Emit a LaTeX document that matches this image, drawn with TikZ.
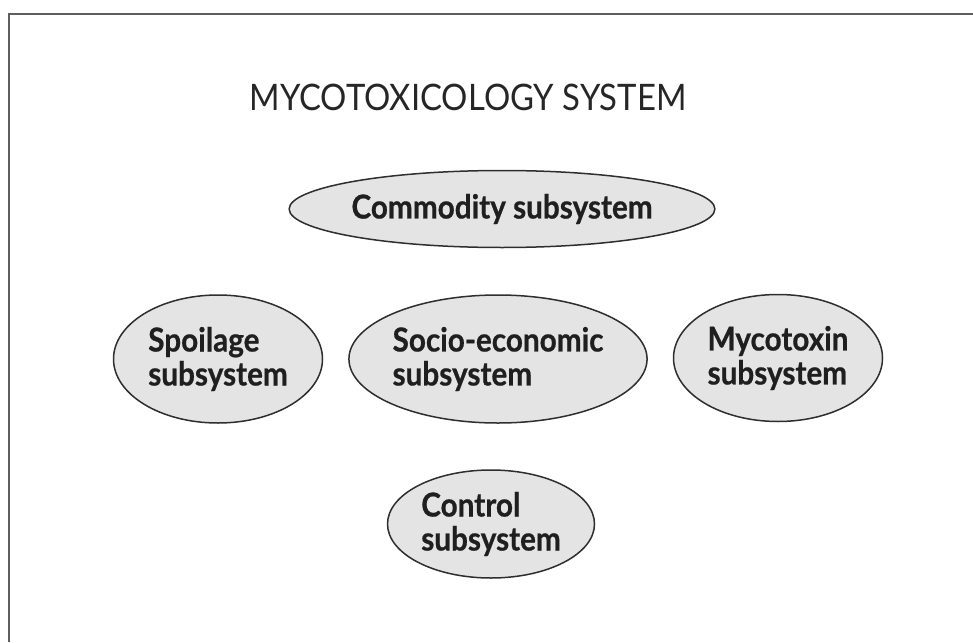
\documentclass[tikz,border=0pt]{standalone}
\usepackage{fontspec}
\setmainfont{Lato}
\newfontfamily\subfont{Lato}[FakeStretch=0.9, BoldFeatures={FakeBold=0.6}]
\usetikzlibrary{shapes.geometric}
\definecolor{subfill}{HTML}{E4E4E4}
\definecolor{subline}{HTML}{2E2E2E}
\definecolor{framegray}{HTML}{5E5E5E}
\begin{document}
\begin{tikzpicture}[x=1pt, y=-1pt,
    subsys/.style={ellipse, draw=subline, line width=1.5pt, fill=subfill, inner sep=0pt,
        align=left, text=black!88, font=\fontsize{33}{34}\subfont\bfseries}]
    \useasboundingbox (0,0) rectangle (973,642);
    % frame, open to the right and bottom
    \draw [line width=2pt, framegray] (9,642) -- (9,14) -- (973,14);
    \node (title) at (468,97) [text=black!85, font=\fontsize{36.5}{40}\subfont] {MYCOTOXICOLOGY SYSTEM};
    \node (commodity) at (502,209) [subsys, minimum width=393, minimum height=77] {Commodity subsystem};
    \node (spoilage) at (218,359) [subsys, minimum width=209, minimum height=128] {Spoilage\\subsystem};
    \node (socio) at (498,359) [subsys, minimum width=270, minimum height=128] {Socio-economic\\subsystem};
    \node (mycotoxin) at (778,358) [subsys, minimum width=209, minimum height=127] {Mycotoxin\\subsystem};
    \node (control) at (491,524) [subsys, minimum width=207, minimum height=108] {Control\\subsystem};
\end{tikzpicture}
\end{document}
